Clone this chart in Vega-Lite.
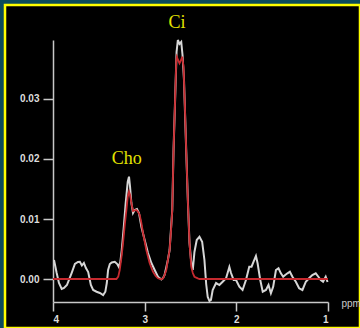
{
  "$schema": "https://vega.github.io/schema/vega-lite/v6.json",
  "autosize": "none",
  "width": 355,
  "height": 323,
  "padding": {"left": 5, "top": 5, "right": 0, "bottom": 0},
  "background": "#0b4b5c",
  "config": {
    "view": {"fill": "#000000", "stroke": "#ffff00", "strokeWidth": 2.5},
    "axis": {"grid": false, "domainColor": "#c8c8c8", "tickColor": "#c8c8c8", "labelColor": "#dddddd", "labelFont": "Liberation Sans", "labelFontSize": 10, "labelFontWeight": "bold", "domainWidth": 1.5, "tickWidth": 1.5}
  },
  "datasets": {
    "spectrum": [
      {"ppm": 3.989, "value": 0.00317}, {"ppm": 3.960, "value": 0.00100}, {"ppm": 3.935, "value": -0.00067}, {"ppm": 3.905, "value": -0.00167},
      {"ppm": 3.880, "value": -0.0015}, {"ppm": 3.848, "value": -0.0010}, {"ppm": 3.797, "value": 0.0010}, {"ppm": 3.761, "value": 0.0025},
      {"ppm": 3.728, "value": 0.00283}, {"ppm": 3.707, "value": 0.00288}, {"ppm": 3.685, "value": 0.00225}, {"ppm": 3.663, "value": 0.00267},
      {"ppm": 3.641, "value": 0.00183}, {"ppm": 3.616, "value": 0.00117}, {"ppm": 3.587, "value": -0.0010}, {"ppm": 3.562, "value": -0.00183},
      {"ppm": 3.525, "value": -0.00212}, {"ppm": 3.489, "value": -0.00233}, {"ppm": 3.453, "value": -0.00267}, {"ppm": 3.429, "value": -0.00212},
      {"ppm": 3.413, "value": -0.00067}, {"ppm": 3.399, "value": 0.0015}, {"ppm": 3.380, "value": 0.0025}, {"ppm": 3.359, "value": 0.00275},
      {"ppm": 3.326, "value": 0.00288}, {"ppm": 3.299, "value": 0.0025}, {"ppm": 3.283, "value": 0.00205}, {"ppm": 3.266, "value": 0.00283},
      {"ppm": 3.250, "value": 0.00483}, {"ppm": 3.228, "value": 0.00867}, {"ppm": 3.207, "value": 0.01267}, {"ppm": 3.185, "value": 0.01617},
      {"ppm": 3.171, "value": 0.01705}, {"ppm": 3.160, "value": 0.0155}, {"ppm": 3.145, "value": 0.01267}, {"ppm": 3.127, "value": 0.0110},
      {"ppm": 3.109, "value": 0.0115}, {"ppm": 3.084, "value": 0.01167}, {"ppm": 3.062, "value": 0.0110}, {"ppm": 3.036, "value": 0.00872},
      {"ppm": 3.000, "value": 0.0065}, {"ppm": 2.964, "value": 0.00433}, {"ppm": 2.927, "value": 0.00267}, {"ppm": 2.891, "value": 0.0015},
      {"ppm": 2.855, "value": 0.00038}, {"ppm": 2.818, "value": -0.00008}, {"ppm": 2.799, "value": 0.00017}, {"ppm": 2.783, "value": 0.00067},
      {"ppm": 2.761, "value": 0.00217}, {"ppm": 2.747, "value": 0.00317}, {"ppm": 2.728, "value": 0.00483}, {"ppm": 2.699, "value": 0.0115},
      {"ppm": 2.685, "value": 0.0215}, {"ppm": 2.668, "value": 0.02983}, {"ppm": 2.652, "value": 0.03783}, {"ppm": 2.638, "value": 0.03983},
      {"ppm": 2.620, "value": 0.03917}, {"ppm": 2.601, "value": 0.0395}, {"ppm": 2.587, "value": 0.03733}, {"ppm": 2.571, "value": 0.03317},
      {"ppm": 2.547, "value": 0.0215}, {"ppm": 2.529, "value": 0.01317}, {"ppm": 2.511, "value": 0.0060}, {"ppm": 2.492, "value": 0.00283},
      {"ppm": 2.475, "value": 0.0015}, {"ppm": 2.457, "value": 0.0045}, {"ppm": 2.432, "value": 0.0065}, {"ppm": 2.402, "value": 0.00705},
      {"ppm": 2.373, "value": 0.00622}, {"ppm": 2.348, "value": 0.00317}, {"ppm": 2.329, "value": -0.00083}, {"ppm": 2.312, "value": -0.0030},
      {"ppm": 2.293, "value": -0.00367}, {"ppm": 2.277, "value": -0.0035}, {"ppm": 2.258, "value": -0.00183}, {"ppm": 2.221, "value": -0.00067},
      {"ppm": 2.185, "value": -0.0010}, {"ppm": 2.149, "value": -0.00045}, {"ppm": 2.112, "value": 0.00012}, {"ppm": 2.076, "value": 0.0020},
      {"ppm": 2.058, "value": 0.0010}, {"ppm": 2.029, "value": -0.00017}, {"ppm": 2.003, "value": -0.00017}, {"ppm": 1.967, "value": -0.00128},
      {"ppm": 1.932, "value": -0.00183}, {"ppm": 1.895, "value": -0.00017}, {"ppm": 1.859, "value": 0.00205}, {"ppm": 1.834, "value": 0.00205},
      {"ppm": 1.804, "value": 0.00317}, {"ppm": 1.786, "value": 0.00383}, {"ppm": 1.768, "value": 0.00262}, {"ppm": 1.739, "value": -0.00017},
      {"ppm": 1.712, "value": -0.00212}, {"ppm": 1.677, "value": -0.00183}, {"ppm": 1.649, "value": -0.0010}, {"ppm": 1.623, "value": -0.00238},
      {"ppm": 1.598, "value": -0.00128}, {"ppm": 1.568, "value": 0.0015}, {"ppm": 1.540, "value": 0.00178}, {"ppm": 1.514, "value": 0.00095},
      {"ppm": 1.489, "value": 0.00038}, {"ppm": 1.467, "value": 0.00067}, {"ppm": 1.442, "value": 0.00095}, {"ppm": 1.416, "value": 0.00122},
      {"ppm": 1.388, "value": 0.00038}, {"ppm": 1.351, "value": -0.00045}, {"ppm": 1.315, "value": -0.00155}, {"ppm": 1.279, "value": -0.00183},
      {"ppm": 1.242, "value": -0.00045}, {"ppm": 1.207, "value": 0.00012}, {"ppm": 1.171, "value": 0.00067}, {"ppm": 1.134, "value": 0.00095},
      {"ppm": 1.105, "value": 0.00038}, {"ppm": 1.079, "value": -0.00017}, {"ppm": 1.054, "value": -0.00045}, {"ppm": 1.025, "value": 0.00038},
      {"ppm": 1.005, "value": -0.0005}
    ],
    "fit": [
      {"ppm": 4.0, "value": 0}, {"ppm": 3.308, "value": 0}, {"ppm": 3.288, "value": 0.0004}, {"ppm": 3.272, "value": 0.0015},
      {"ppm": 3.250, "value": 0.0040}, {"ppm": 3.236, "value": 0.0060}, {"ppm": 3.217, "value": 0.0090}, {"ppm": 3.199, "value": 0.0115},
      {"ppm": 3.185, "value": 0.01367}, {"ppm": 3.171, "value": 0.01455}, {"ppm": 3.158, "value": 0.0140}, {"ppm": 3.145, "value": 0.01267},
      {"ppm": 3.127, "value": 0.01133}, {"ppm": 3.109, "value": 0.01142}, {"ppm": 3.090, "value": 0.0115}, {"ppm": 3.071, "value": 0.01117},
      {"ppm": 3.054, "value": 0.01067}, {"ppm": 3.036, "value": 0.00933}, {"ppm": 3.018, "value": 0.00767}, {"ppm": 2.982, "value": 0.00483},
      {"ppm": 2.946, "value": 0.00267}, {"ppm": 2.910, "value": 0.00122}, {"ppm": 2.880, "value": 0.0005}, {"ppm": 2.855, "value": 0.00012},
      {"ppm": 2.818, "value": -0.00005}, {"ppm": 2.799, "value": 0.0001}, {"ppm": 2.783, "value": 0.00067}, {"ppm": 2.764, "value": 0.0015},
      {"ppm": 2.747, "value": 0.00317}, {"ppm": 2.728, "value": 0.00483}, {"ppm": 2.712, "value": 0.00817}, {"ppm": 2.699, "value": 0.0115},
      {"ppm": 2.685, "value": 0.0215}, {"ppm": 2.668, "value": 0.02983}, {"ppm": 2.655, "value": 0.0365}, {"ppm": 2.649, "value": 0.03705},
      {"ppm": 2.636, "value": 0.0365}, {"ppm": 2.620, "value": 0.03595}, {"ppm": 2.603, "value": 0.0365}, {"ppm": 2.590, "value": 0.03705},
      {"ppm": 2.576, "value": 0.03538}, {"ppm": 2.560, "value": 0.02817}, {"ppm": 2.547, "value": 0.0215}, {"ppm": 2.529, "value": 0.01317},
      {"ppm": 2.511, "value": 0.0060}, {"ppm": 2.492, "value": 0.00205}, {"ppm": 2.475, "value": 0.0010}, {"ppm": 2.457, "value": 0.00038},
      {"ppm": 2.421, "value": 0.0001}, {"ppm": 2.402, "value": 0}, {"ppm": 1.0, "value": 0}
    ],
    "labels": [
      {"label": "Cho", "ppm": 3.196, "value": 0.0200},
      {"label": "Ci", "ppm": 2.647, "value": 0.0427}
    ]
  },
  "layer": [
    {
      "data": {"name": "spectrum"},
      "mark": {"type": "line", "color": "#d6d6d6", "strokeWidth": 2, "clip": false},
      "encoding": {
        "x": {"field": "ppm", "type": "quantitative",
          "scale": {"domain": [4, 1], "range": [48, 323], "nice": false, "zero": false},
          "axis": {"values": [4, 3, 2, 1], "format": "d", "offset": -26, "tickSize": 9, "labelPadding": 3,
            "title": "ppm", "titleX": 336, "titleY": 1, "titleAlign": "left", "titleBaseline": "middle", "titleAngle": 0,
            "titleFont": "Liberation Sans", "titleFontSize": 10, "titleFontWeight": "normal", "titleColor": "#cccccc"}},
        "y": {"field": "value", "type": "quantitative",
          "scale": {"domain": [-0.00383, 0.03983], "range": [297, 35], "nice": false, "zero": false},
          "axis": {"values": [0, 0.01, 0.02, 0.03], "format": ".2f", "offset": -48, "tickSize": 10, "labelPadding": 4, "title": null}}
      }
    },
    {
      "data": {"name": "fit"},
      "mark": {"type": "line", "color": "#c62a2f", "strokeWidth": 1.8, "clip": false},
      "encoding": {
        "x": {"field": "ppm", "type": "quantitative"},
        "y": {"field": "value", "type": "quantitative"}
      }
    },
    {
      "data": {"name": "labels"},
      "mark": {"type": "text", "font": "Liberation Serif", "fontSize": 18, "color": "#e3e300", "align": "center", "baseline": "middle"},
      "encoding": {
        "x": {"field": "ppm", "type": "quantitative"},
        "y": {"field": "value", "type": "quantitative"},
        "text": {"field": "label"}
      }
    }
  ]
}
